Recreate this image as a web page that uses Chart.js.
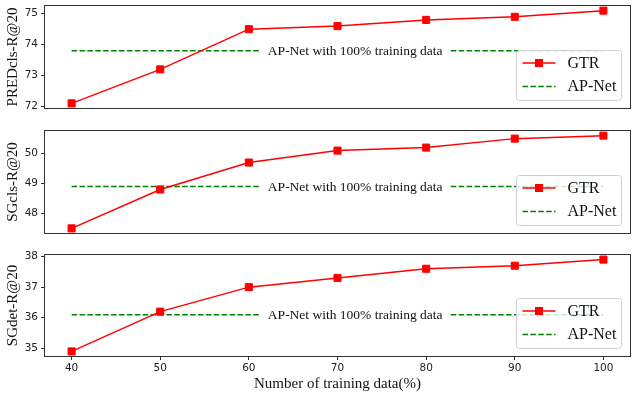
<!DOCTYPE html>
<html>
<head>
<meta charset="utf-8">
<script src="https://cdn.jsdelivr.net/npm/chart.js@4.4.1/dist/chart.umd.min.js"></script>
<style>
  html, body { margin: 0; padding: 0; background: #fff; overflow: hidden; }
  #wrap { position: relative; width: 633px; height: 395px; overflow: hidden; }
  canvas { position: absolute; left: 0; }
</style>
</head>
<body>
<div id="wrap">
  <canvas id="c1" width="636" height="114" style="top:0px"></canvas>
  <canvas id="c2" width="636" height="114" style="top:125px"></canvas>
  <canvas id="c3" width="636" height="146" style="top:249px"></canvas>
</div>
<script>
const trainingPct = [40, 50, 60, 70, 80, 90, 100];
const gtrPredcls = [72.1, 73.2, 74.5, 74.6, 74.8, 74.9, 75.1];
const gtrSgcls = [47.5, 48.8, 49.7, 50.1, 50.2, 50.5, 50.6];
const gtrSgdet = [34.9, 36.2, 37.0, 37.3, 37.6, 37.7, 37.9];
const apNetFull = [73.8, 48.9, 36.1]; // PREDcls, SGcls, SGdet
const yTicksPredcls = [72, 73, 74, 75];
const yTicksSgcls = [48, 49, 50];
const yTicksSgdet = [35, 36, 37, 38];

const SERIF = "'Liberation Serif', 'Times New Roman', serif";
const SANS = "'DejaVu Sans', sans-serif";
const RED = '#ff0000';
const GREEN = '#008000';
const annoText = 'AP-Net with 100% training data';

function decor(apValue) {
  return {
    id: 'decor',
    afterDatasetsDraw(chart) {
      const { ctx, chartArea: a, scales } = chart;
      ctx.save();

      // annotation with white box over the dashed line
      const ax = scales.x.getPixelForValue(72);
      const ay = scales.y.getPixelForValue(apValue);
      ctx.font = '13.5px ' + SERIF;
      const tw = ctx.measureText(annoText).width;
      ctx.fillStyle = '#fff';
      ctx.fillRect(ax - tw / 2 - 7, ay - 8, tw + 14, 16);
      ctx.fillStyle = '#111';
      ctx.textAlign = 'center';
      ctx.textBaseline = 'middle';
      ctx.fillText(annoText, ax, ay + 0.5);

      // frame
      ctx.strokeStyle = '#333';
      ctx.lineWidth = 1;
      ctx.strokeRect(Math.round(a.left) - 0.5, Math.round(a.top) - 0.5,
        Math.round(a.right - a.left) + 1, Math.round(a.bottom - a.top) + 1);

      // legend
      const bw = 105, bh = 50;
      const bx = Math.round(a.right - 9 - bw) + 0.5;
      const by = Math.round(a.bottom - 8 - bh) + 0.5;
      ctx.beginPath();
      ctx.roundRect(bx, by, bw, bh, 3);
      ctx.fillStyle = 'rgba(255,255,255,0.8)';
      ctx.fill();
      ctx.strokeStyle = '#d0d0d0';
      ctx.stroke();

      const ds = chart.data.datasets;
      const rows = [by + 12.5, by + 36];
      ds.forEach((d, i) => {
        const y = rows[i];
        ctx.beginPath();
        ctx.setLineDash(d.borderDash || []);
        ctx.strokeStyle = d.borderColor;
        ctx.lineWidth = d.borderWidth;
        ctx.moveTo(bx + 6, y);
        ctx.lineTo(bx + 39, y);
        ctx.stroke();
        ctx.setLineDash([]);
        if (d.pointRadius > 0) {
          ctx.fillStyle = d.borderColor;
          ctx.fillRect(bx + 22.5 - 4, y - 4, 8, 8);
        }
        ctx.fillStyle = '#111';
        ctx.font = '16px ' + SERIF;
        ctx.textAlign = 'left';
        ctx.textBaseline = 'middle';
        ctx.fillText(d.label, bx + 51, y + 0.5);
      });
      ctx.restore();
    }
  };
}

function makePanel(id, gtr, apValue, yTicks, yTitle, showX) {
  const lo = Math.min(...gtr, apValue), hi = Math.max(...gtr, apValue);
  const m = (hi - lo) * 0.05;
  const first = trainingPct[0], last = trainingPct[trainingPct.length - 1];
  const xm = (last - first) * 0.05;

  new Chart(document.getElementById(id), {
    type: 'line',
    data: {
      datasets: [
        {
          label: 'GTR',
          data: trainingPct.map((x, i) => ({ x: x, y: gtr[i] })),
          borderColor: RED,
          backgroundColor: RED,
          borderWidth: 1.5,
          pointStyle: 'rect',
          pointRadius: 5,
          pointBorderWidth: 1,
          pointBackgroundColor: RED,
          pointBorderColor: RED,
          tension: 0
        },
        {
          label: 'AP-Net',
          data: [{ x: first, y: apValue }, { x: last, y: apValue }],
          borderColor: GREEN,
          borderWidth: 1.5,
          borderDash: [5.5, 2.4],
          pointRadius: 0
        }
      ]
    },
    options: {
      responsive: false,
      animation: false,
      layout: { padding: { top: 4, bottom: showX ? 0 : 3, left: 0, right: 0 } },
      plugins: { legend: { display: false }, tooltip: { enabled: false } },
      scales: {
        x: {
          type: 'linear',
          display: showX,
          min: first - xm,
          max: last + xm,
          afterBuildTicks: s => { s.ticks = trainingPct.map(v => ({ value: v })); },
          afterFit: s => {
            if (showX) { s.height = 39; } else { s.height = 0; }
            s.paddingLeft = 0; s.paddingRight = 0;
          },
          border: { display: false },
          grid: { drawOnChartArea: false, drawTicks: true, tickLength: 4, color: '#333' },
          ticks: { color: '#222', padding: 2, font: { family: SANS, size: 10.5 } },
          title: {
            display: true,
            text: 'Number of training data(%)',
            color: '#111',
            padding: { top: 0, bottom: 2 },
            font: { family: SERIF, size: 15 }
          }
        },
        y: {
          min: lo - m,
          max: hi + m,
          afterBuildTicks: s => { s.ticks = yTicks.map(v => ({ value: v })); },
          afterFit: s => { s.width = 45; s.paddingTop = 0; s.paddingBottom = 0; },
          border: { display: false },
          grid: { drawOnChartArea: false, drawTicks: true, tickLength: 4, color: '#333' },
          ticks: { color: '#222', padding: 3, font: { family: SANS, size: 10.5 } },
          title: {
            display: true,
            text: yTitle,
            color: '#111',
            padding: { top: 4, bottom: 4 },
            font: { family: SERIF, size: 15 }
          }
        }
      }
    },
    plugins: [decor(apValue)]
  });
}

makePanel('c1', gtrPredcls, apNetFull[0], yTicksPredcls, 'PREDcls-R@20', false);
makePanel('c2', gtrSgcls, apNetFull[1], yTicksSgcls, 'SGcls-R@20', false);
makePanel('c3', gtrSgdet, apNetFull[2], yTicksSgdet, 'SGdet-R@20', true);
</script>
</body>
</html>
